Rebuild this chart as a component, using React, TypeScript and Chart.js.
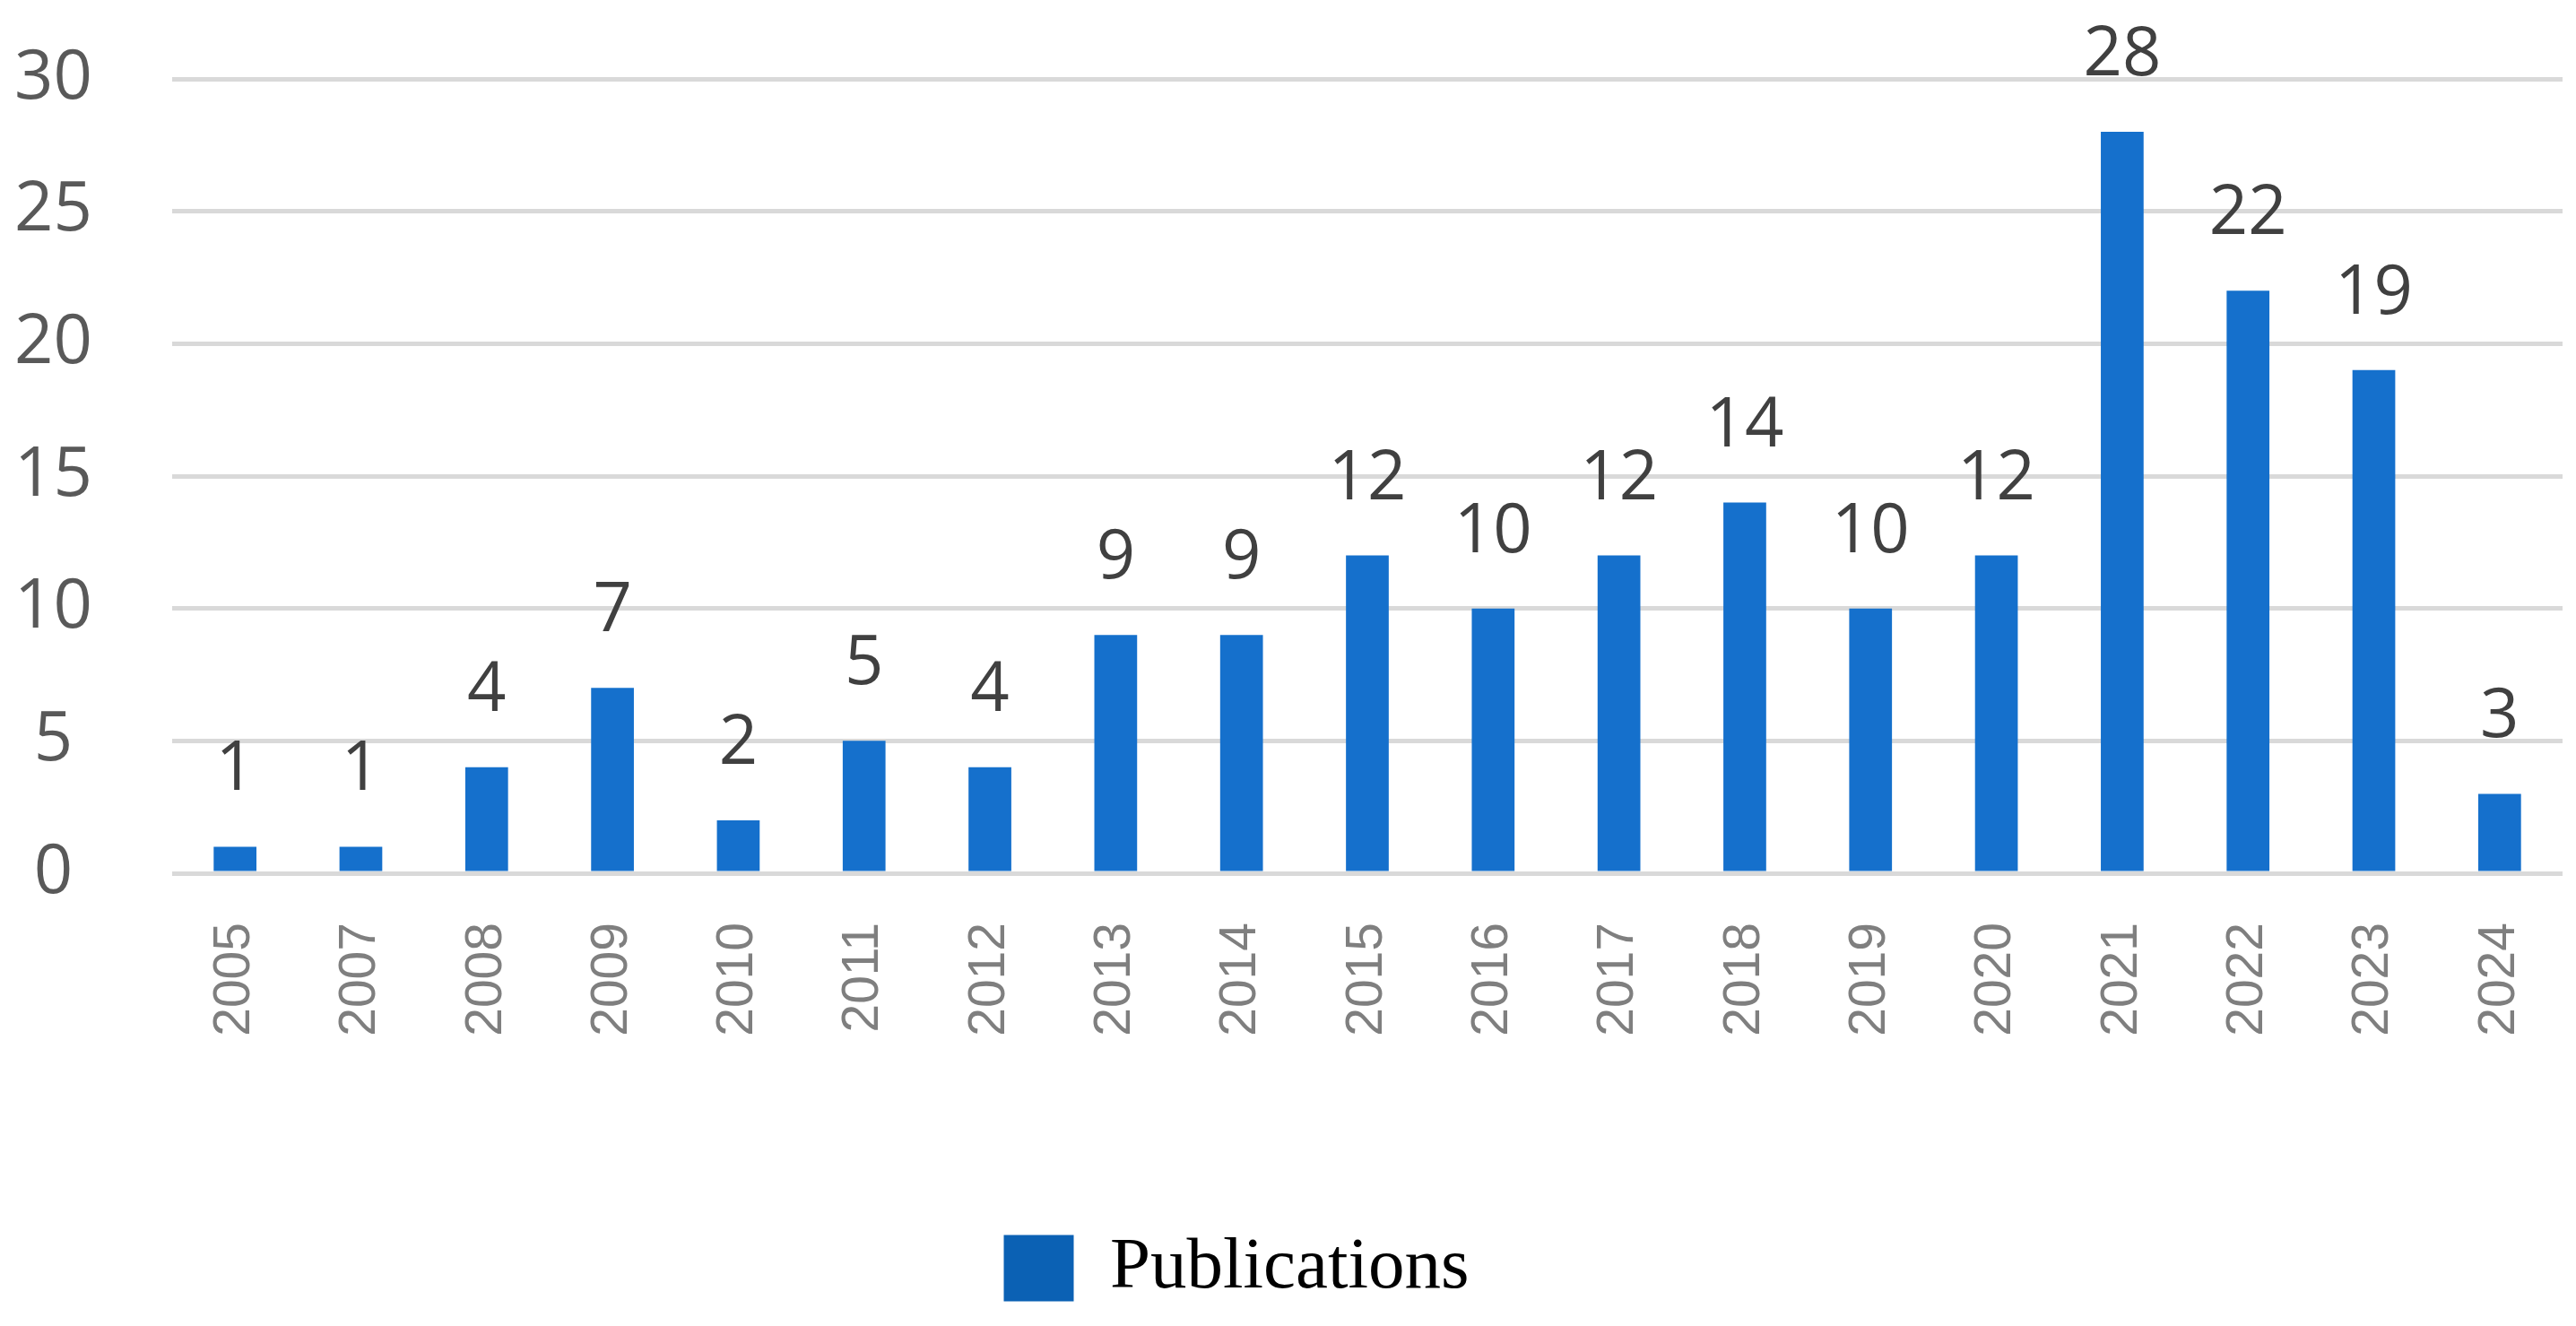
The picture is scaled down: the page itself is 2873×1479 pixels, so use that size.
import React, { useEffect, useRef } from "react";
import { Chart, registerables } from "chart.js";

Chart.register(...registerables);

const years = ["2005", "2007", "2008", "2009", "2010", "2011", "2012", "2013", "2014", "2015", "2016", "2017", "2018", "2019", "2020", "2021", "2022", "2023", "2024"];
const publications = [1, 1, 4, 7, 2, 5, 4, 9, 9, 12, 10, 12, 14, 10, 12, 28, 22, 19, 3];
const seriesLabel = "Publications";
const yTicks = [0, 5, 10, 15, 20, 25, 30];

const BAR_COLOR = "#1570CC";
const LEGEND_COLOR = "#0B61B4";

const dataLabelPlugin = {
  id: "dataLabels",
  afterDatasetsDraw(chart: any) {
    const ctx = chart.ctx;
    const meta = chart.getDatasetMeta(0);
    ctx.save();
    ctx.font = "76px 'Open Sans'";
    ctx.fillStyle = "#404040";
    ctx.textAlign = "center";
    ctx.textBaseline = "alphabetic";
    meta.data.forEach((bar: any, i: number) => {
      ctx.fillText(String(chart.data.datasets[0].data[i]), bar.x, bar.y - 63);
    });
    ctx.restore();
  },
};

const legendShiftPlugin = {
  id: "legendShift",
  afterLayout(chart: any) {
    const lg = chart.legend;
    if (lg) {
      const dx = -50;
      lg.left += dx;
      lg.right += dx;
    }
  },
};

export default function App() {
  const ref = useRef<HTMLCanvasElement | null>(null);
  useEffect(() => {
    if (!ref.current) return;
    const chart = new Chart(ref.current, {
      type: "bar",
      data: {
        labels: years,
        datasets: [
          {
            label: seriesLabel,
            data: publications,
            backgroundColor: BAR_COLOR,
            borderWidth: 0,
            categoryPercentage: 1,
            barPercentage: 0.34,
          },
        ],
      },
      plugins: [dataLabelPlugin, legendShiftPlugin],
      options: {
        animation: false,
        responsive: false,
        maintainAspectRatio: false,
        devicePixelRatio: 1,
        layout: { padding: { top: 88, right: 15, bottom: 14, left: 0 } },
        plugins: {
          tooltip: { enabled: false },
          legend: {
            display: true,
            position: "bottom",
            labels: {
              font: { family: "'Liberation Serif', 'Times New Roman', serif", size: 81 },
              color: "#000000",
              boxWidth: 78,
              boxHeight: 74,
              padding: 10,
              generateLabels: () => [
                {
                  text: seriesLabel,
                  fillStyle: LEGEND_COLOR,
                  strokeStyle: LEGEND_COLOR,
                  lineWidth: 0,
                  hidden: false,
                  datasetIndex: 0,
                  fontColor: "#000000",
                },
              ],
            },
          },
        },
        scales: {
          x: {
            grid: { display: false, drawTicks: false },
            border: { display: false },
            ticks: {
              minRotation: 90,
              maxRotation: 90,
              padding: 55,
              color: "#7F7F7F",
              font: { family: "'Liberation Sans', Arial, sans-serif", size: 57 },
            },
            afterFit: (scale: any) => {
              scale.height = 390;
              scale.paddingLeft = 0;
              scale.paddingRight = 0;
            },
          },
          y: {
            min: 0,
            max: 30,
            afterBuildTicks: (scale: any) => {
              scale.ticks = yTicks.map((v) => ({ value: v }));
            },
            grid: { color: "#D9D9D9", lineWidth: 5, drawTicks: false },
            border: { display: false },
            ticks: {
              crossAlign: "center",
              padding: 89,
              color: "#595959",
              font: { family: "'Open Sans'", size: 76 },
            },
            afterFit: (scale: any) => {
              scale.width = 192;
              scale.paddingTop = 0;
              scale.paddingBottom = 0;
            },
          },
        },
      },
    });
    return () => chart.destroy();
  }, []);
  return (
    <div style={{ position: "fixed", left: 0, top: 0, width: 2873, height: 1479, background: "#ffffff" }}>
      <canvas ref={ref} width={2873} height={1479} style={{ width: 2873, height: 1479, display: "block" }} />
    </div>
  );
}
